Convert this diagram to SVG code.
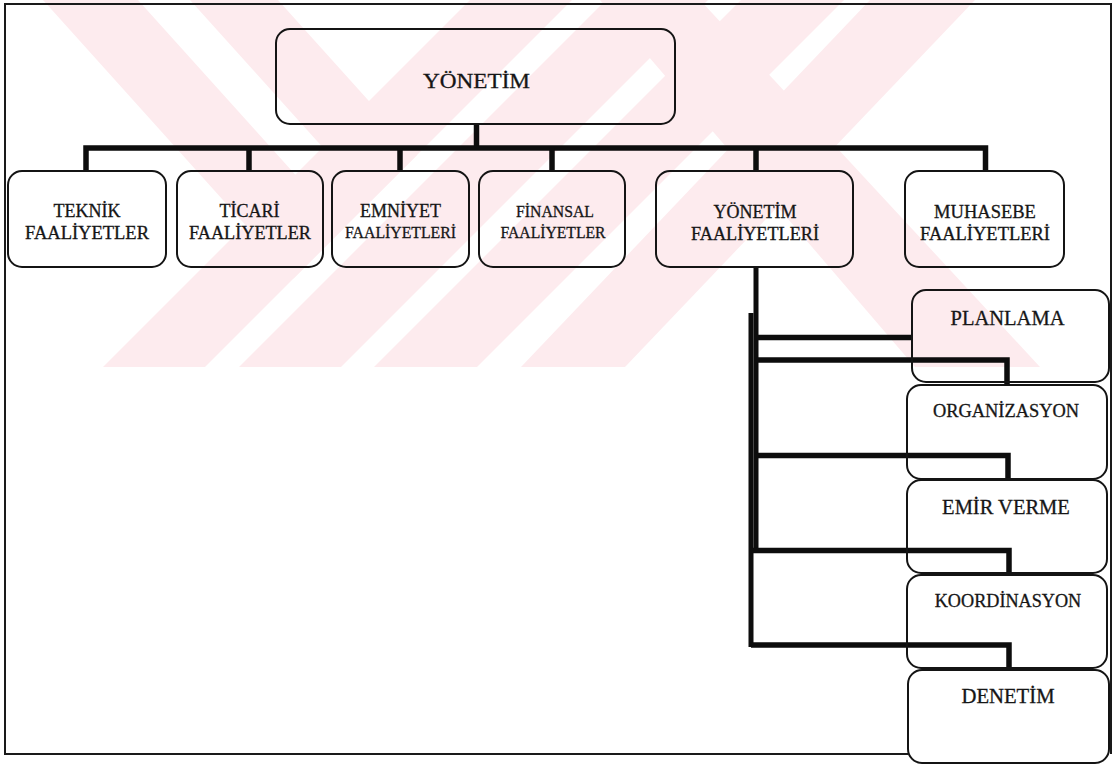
<svg xmlns="http://www.w3.org/2000/svg" width="1114" height="765" viewBox="0 0 1114 765">
  <style>
    .box { fill: none; stroke: #141414; stroke-width: 2; }
    .frame { fill: none; stroke: #1a1a1a; stroke-width: 2; }
    .wire { fill: none; stroke: #0d0d0d; stroke-width: 5.5; stroke-linejoin: miter; stroke-linecap: butt; }
    .t { font-family: "Liberation Serif", "Times New Roman", serif; fill: #161616; stroke: #161616; stroke-width: 0.3; text-anchor: middle; }
    .wm { fill: #fdebee; }
  </style>
  <defs>
    <clipPath id="wmclip"><rect x="0" y="0" width="1114" height="367"/></clipPath>
  </defs>

  <rect width="1114" height="765" fill="#ffffff"/>

  <!-- pale striped background mark -->
  <g id="watermark" class="wm" clip-path="url(#wmclip)">
    <polygon points="470,0 572,0 205,367 103,367"/>
    <polygon points="606,0 708,0 341,367 239,367"/>
    <polygon points="741,0 844,0 477,367 374,367"/>
    <polygon points="870,0 975,0 625,367 521,367"/>
    <polygon points="43,0 138,0 343.6,228.4 293.6,278.4"/>
    <polygon points="190,0 278,0 417.3,154.7 371,201"/>
    <polygon points="600,0 700,0 1040,367 915,367"/>
  </g>

  <!-- page frame -->
  <path class="frame" d="M908,754 H5 V4 H1111 V754"/>

  <!-- connectors -->
  <g id="connectors">
    <path class="wire" d="M476.5,124 V148"/>
    <path class="wire" d="M86,171 V148 H985.5 V171"/>
    <path class="wire" d="M249,148 V171"/>
    <path class="wire" d="M400,148 V171"/>
    <path class="wire" d="M552,148 V171"/>
    <path class="wire" d="M756,148 V171"/>

    <path class="wire" d="M756,267 V552" style="stroke-width:5"/>
    <path class="wire" d="M751,313 V647" style="stroke-width:5"/>
    <path class="wire" d="M756,337.5 H912"/>
    <path class="wire" d="M756,360 H1007 V385"/>
    <path class="wire" d="M756,455.5 H1008 V480"/>
    <path class="wire" d="M751,550.5 H1009 V575"/>
    <path class="wire" d="M751,645 H1009 V670"/>
  </g>

  <!-- top node -->
  <g id="yonetim">
    <rect class="box" x="276" y="29" width="399" height="95" rx="14"/>
    <text class="t" x="476.5" y="88" font-size="21" textLength="107" lengthAdjust="spacingAndGlyphs">YÖNETİM</text>
  </g>

  <!-- second level -->
  <g id="teknik">
    <rect class="box" x="8" y="171" width="158" height="96" rx="14"/>
    <text class="t" x="87" y="217" font-size="18">TEKNİK</text>
    <text class="t" x="87" y="239" font-size="18" textLength="124" lengthAdjust="spacingAndGlyphs">FAALİYETLER</text>
  </g>
  <g id="ticari">
    <rect class="box" x="177" y="171" width="146" height="96" rx="14"/>
    <text class="t" x="249.5" y="217" font-size="18">TİCARİ</text>
    <text class="t" x="250" y="239" font-size="18" textLength="122" lengthAdjust="spacingAndGlyphs">FAALİYETLER</text>
  </g>
  <g id="emniyet">
    <rect class="box" x="332" y="171" width="137" height="96" rx="14"/>
    <text class="t" x="400.5" y="217" font-size="18">EMNİYET</text>
    <text class="t" x="400.5" y="238" font-size="16" textLength="111" lengthAdjust="spacingAndGlyphs">FAALİYETLERİ</text>
  </g>
  <g id="finansal">
    <rect class="box" x="479" y="171" width="146" height="96" rx="14"/>
    <text class="t" x="555" y="217" font-size="16" textLength="78" lengthAdjust="spacingAndGlyphs">FİNANSAL</text>
    <text class="t" x="553" y="238" font-size="16" textLength="105" lengthAdjust="spacingAndGlyphs">FAALİYETLER</text>
  </g>
  <g id="yonetim-faaliyetleri">
    <rect class="box" x="656" y="171" width="197" height="96" rx="14"/>
    <text class="t" x="755" y="218" font-size="18">YÖNETİM</text>
    <text class="t" x="755" y="240" font-size="18" textLength="128" lengthAdjust="spacingAndGlyphs">FAALİYETLERİ</text>
  </g>
  <g id="muhasebe">
    <rect class="box" x="905" y="171" width="159" height="96" rx="14"/>
    <text class="t" x="985" y="218" font-size="18.5">MUHASEBE</text>
    <text class="t" x="985" y="240" font-size="18" textLength="130" lengthAdjust="spacingAndGlyphs">FAALİYETLERİ</text>
  </g>

  <!-- management functions -->
  <g id="planlama">
    <rect class="box" x="912" y="290" width="197" height="92" rx="14"/>
    <text class="t" x="1007.5" y="325" font-size="20.5">PLANLAMA</text>
  </g>
  <g id="organizasyon">
    <rect class="box" x="907" y="385" width="200" height="94" rx="14"/>
    <text class="t" x="1006" y="417" font-size="18.4">ORGANİZASYON</text>
  </g>
  <g id="emir-verme">
    <rect class="box" x="907" y="480" width="200" height="93" rx="14"/>
    <text class="t" x="1006" y="514" font-size="20.5">EMİR VERME</text>
  </g>
  <g id="koordinasyon">
    <rect class="box" x="907" y="575" width="200" height="93" rx="14"/>
    <text class="t" x="1008" y="607" font-size="18.2">KOORDİNASYON</text>
  </g>
  <g id="denetim">
    <rect class="box" x="908" y="670" width="201" height="93" rx="14"/>
    <text class="t" x="1008" y="703" font-size="20.7">DENETİM</text>
  </g>
</svg>
